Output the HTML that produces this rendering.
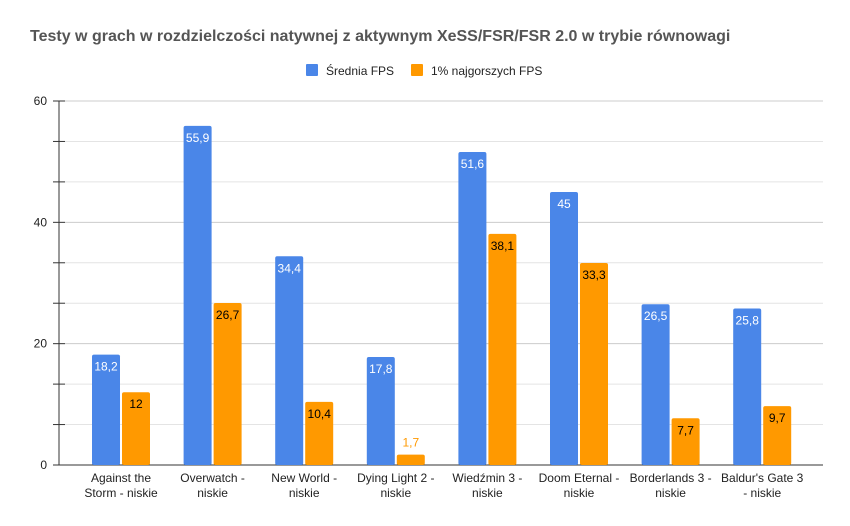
<!DOCTYPE html>
<html><head><meta charset="utf-8"><style>
body{margin:0;background:#fff;font-family:"Liberation Sans",Arial,sans-serif}
svg{display:block}
</style></head><body>
<svg id="c" width="850" height="526">
<text x="30" y="41" font-size="16" font-weight="bold" fill="#555">Testy w grach w rozdzielczości natywnej z aktywnym XeSS/FSR/FSR 2.0 w trybie równowagi</text>
<g>
<rect x="306" y="64" width="12" height="12" rx="1" fill="#4a86e8"/>
<text x="326" y="75" font-size="12" fill="#222">Średnia FPS</text>
<rect x="411" y="64" width="12" height="12" rx="1" fill="#ff9900"/>
<text x="431" y="75" font-size="12" fill="#222">1% najgorszych  FPS</text>
</g>
<g id="grid"></g><g id="bars"></g><g id="xl"></g>
</svg>
<script>
const categories=[["Against the","Storm - niskie"],["Overwatch -","niskie"],["New World -","niskie"],["Dying Light 2 -","niskie"],["Wiedźmin 3 -","niskie"],["Doom Eternal -","niskie"],["Borderlands 3 -","niskie"],["Baldur's Gate 3","- niskie"]];
const avgFps=[18.2,55.9,34.4,17.8,51.6,45,26.5,25.8];
const lowFps=[12,26.7,10.4,1.7,38.1,33.3,7.7,9.7];
const yTicks=[0,20,40,60];
const NS="http://www.w3.org/2000/svg";
const y0=465,yTop=101,yMax=60;
const y=v=>y0-(v/yMax)*(y0-yTop);
const cx=i=>121+i*91.6;
function mk(t,a,p){const e=document.createElementNS(NS,t);for(const k in a)e.setAttribute(k,a[k]);p.appendChild(e);return e;}
const g=document.getElementById('grid');
for(let k=0;k<=9;k++){const v=k*20/3;const yy=y(v);
 const l=mk('line',{x1:65,x2:823,y1:yy,y2:yy,stroke:k%3==0?'#ccc':'#e4e4e4'},g);
 
 const t=mk('line',{x1:53,x2:65,y1:yy,y2:yy,stroke:'#333'},g);
 }
yTicks.forEach(v=>{const t=mk('text',{x:47,y:y(v)+4,'font-size':12,fill:'#222','text-anchor':'end'},g);t.textContent=v;
 });
const ax=mk('line',{x1:59,x2:59,y1:yTop,y2:y0,stroke:'#333'},g);

const xa=mk('line',{x1:59,x2:823,y1:y0,y2:y0,stroke:'#333'},g);

const b=document.getElementById('bars'),xl=document.getElementById('xl');
const fmt=v=>String(v).replace('.',',');
categories.forEach((c,i)=>{
 [[avgFps[i],'#4a86e8',-29,'#fff','bar-avg'],[lowFps[i],'#ff9900',1,'#000','bar-low']].forEach(([v,col,dx,tc,nm])=>{
  const x=cx(i)+dx,top=y(v);
  const r=mk('rect',{x:x,y:top,width:28,height:y0-top,rx:2,fill:col},b);
  
  const inside=(y0-top)>24;
  const t=mk('text',{x:x+14,y:inside?top+16:top-8,'font-size':12,'text-anchor':'middle',fill:inside?tc:col},b);
  t.textContent=fmt(v);
  
 });
 c.forEach((ln,j)=>{const t=mk('text',{x:cx(i),y:482+j*15,'font-size':12,'text-anchor':'middle',fill:'#222'},xl);t.textContent=ln;
  });
});
</script>
</body></html>
